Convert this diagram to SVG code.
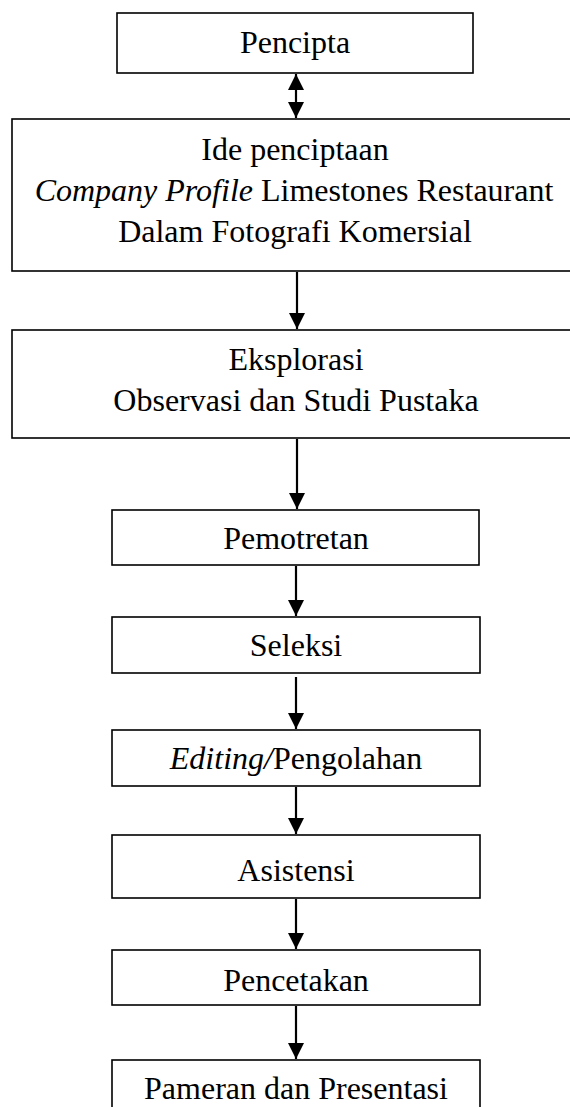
<svg xmlns="http://www.w3.org/2000/svg" width="570" height="1107" viewBox="0 0 570 1107">
<style>
  .box { fill: #ffffff; stroke: #000000; stroke-width: 1.6; }
  .t { font-family: "Liberation Serif", "Times New Roman", serif; font-size: 32px; fill: #000000; text-anchor: middle; }
  .i { font-style: italic; }
  .c { stroke: #000000; stroke-width: 2.2; fill: none; }
</style>
<defs>
  <marker id="down" viewBox="0 0 16 16" refX="8" refY="16" markerWidth="16" markerHeight="16" markerUnits="userSpaceOnUse" orient="0">
    <path d="M0,0 L16,0 L8,16 Z" fill="#000000"/>
  </marker>
  <marker id="up" viewBox="0 0 16 16" refX="8" refY="0" markerWidth="16" markerHeight="16" markerUnits="userSpaceOnUse" orient="0">
    <path d="M8,0 L16,16 L0,16 Z" fill="#000000"/>
  </marker>
</defs>

<g id="connectors">
  <line class="c" x1="296" y1="74" x2="296" y2="118" marker-start="url(#up)" marker-end="url(#down)"/>
  <line class="c" x1="297" y1="272" x2="297" y2="329" marker-end="url(#down)"/>
  <line class="c" x1="297" y1="439" x2="297" y2="509" marker-end="url(#down)"/>
  <line class="c" x1="296" y1="566" x2="296" y2="616" marker-end="url(#down)"/>
  <line class="c" x1="296" y1="677" x2="296" y2="729" marker-end="url(#down)"/>
  <line class="c" x1="296" y1="787" x2="296" y2="834" marker-end="url(#down)"/>
  <line class="c" x1="296" y1="899" x2="296" y2="949" marker-end="url(#down)"/>
  <line class="c" x1="296" y1="1006" x2="296" y2="1059" marker-end="url(#down)"/>
</g>

<g id="pencipta">
  <rect class="box" x="117" y="13" width="356" height="60"/>
  <text class="t" x="295" y="53">Pencipta</text>
</g>

<g id="ide">
  <rect class="box" x="12" y="119" width="562" height="152"/>
  <text class="t" x="295" y="160">Ide penciptaan</text>
  <text class="t" x="294" y="201"><tspan class="i">Company Profile</tspan> Limestones Restaurant</text>
  <text class="t" x="295" y="242">Dalam Fotografi Komersial</text>
</g>

<g id="eksplorasi">
  <rect class="box" x="12" y="330" width="562" height="108"/>
  <text class="t" x="296" y="370">Eksplorasi</text>
  <text class="t" x="296" y="411">Observasi dan Studi Pustaka</text>
</g>

<g id="pemotretan">
  <rect class="box" x="112" y="510" width="367" height="55"/>
  <text class="t" x="296" y="549">Pemotretan</text>
</g>

<g id="seleksi">
  <rect class="box" x="112" y="617" width="368" height="56"/>
  <text class="t" x="296" y="656">Seleksi</text>
</g>

<g id="editing">
  <rect class="box" x="112" y="730" width="368" height="56"/>
  <text class="t" x="296" y="769"><tspan class="i">Editing/</tspan>Pengolahan</text>
</g>

<g id="asistensi">
  <rect class="box" x="112" y="835" width="368" height="63"/>
  <text class="t" x="296" y="881">Asistensi</text>
</g>

<g id="pencetakan">
  <rect class="box" x="112" y="950" width="368" height="55"/>
  <text class="t" x="296" y="991">Pencetakan</text>
</g>

<g id="pameran">
  <rect class="box" x="112" y="1060" width="368" height="60"/>
  <text class="t" x="296" y="1099">Pameran dan Presentasi</text>
</g>
</svg>
